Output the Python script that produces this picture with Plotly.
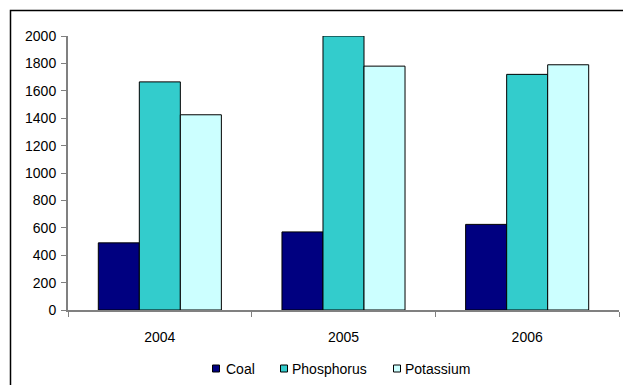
import plotly.graph_objects as go

years = ["2004", "2005", "2006"]
coal = [490, 570, 625]
phosphorus = [1665, 2000, 1720]
potassium = [1425, 1780, 1790]

series = [
    ("Coal", coal, "#000080"),
    ("Phosphorus", phosphorus, "#33CCCC"),
    ("Potassium", potassium, "#CCFFFF"),
]

fig = go.Figure()
for name, vals, color in series:
    fig.add_trace(go.Bar(
        x=years, y=vals, name=name, showlegend=False,
        marker=dict(color=color, line=dict(color="#000000", width=1)),
    ))

W, H = 623, 385
L, R, T, B = 68, 4, 36, 75
pw, ph = W - L - R, H - T - B

def px_x(v):
    return (v - L) / pw

def px_y(v):
    return (H - B - v) / ph

# legend: small outlined squares followed by labels
legend_y = 368.5
legend_items = [(212, 225), (280, 291), (393, 404)]
shapes = [dict(type="rect", xref="paper", yref="paper",
               x0=px_x(10.5), x1=px_x(640), y0=px_y(400), y1=px_y(10.5),
               line=dict(color="#000000", width=1.5), fillcolor="rgba(0,0,0,0)", layer="below")]
annotations = []
for (name, _, color), (sx, tx) in zip(series, legend_items):
    shapes.append(dict(type="rect", xref="paper", yref="paper",
                       x0=px_x(sx + 0.5), x1=px_x(sx + 7.5),
                       y0=px_y(legend_y + 3.5), y1=px_y(legend_y - 3.5),
                       line=dict(color="#000000", width=1), fillcolor=color))
    annotations.append(dict(text=name, xref="paper", yref="paper", x=px_x(tx), y=px_y(legend_y),
                            xanchor="left", yanchor="middle", showarrow=False,
                            font=dict(size=14), borderpad=0))

fig.update_layout(
    width=W, height=H,
    margin=dict(l=L, r=R, t=T, b=B, pad=0),
    paper_bgcolor="white", plot_bgcolor="white",
    font=dict(family="Liberation Sans, Arial, sans-serif", size=14, color="#000000"),
    barmode="group", bargap=0.33, bargroupgap=0,
    showlegend=False,
    xaxis=dict(type="category", showgrid=False, showline=True, linecolor="#808080", linewidth=2,
               ticks="outside", tickson="boundaries", ticklen=5, tickcolor="#808080", tickwidth=1,
               ticklabelstandoff=13),
    yaxis=dict(range=[0, 2000], dtick=200, showgrid=False, showline=True, linecolor="#808080",
               linewidth=2, ticks="outside", ticklen=5, tickcolor="#808080", tickwidth=1,
               ticklabelstandoff=2, zeroline=False),
    shapes=shapes,
    annotations=annotations,
)

fig.write_html("out.html")
